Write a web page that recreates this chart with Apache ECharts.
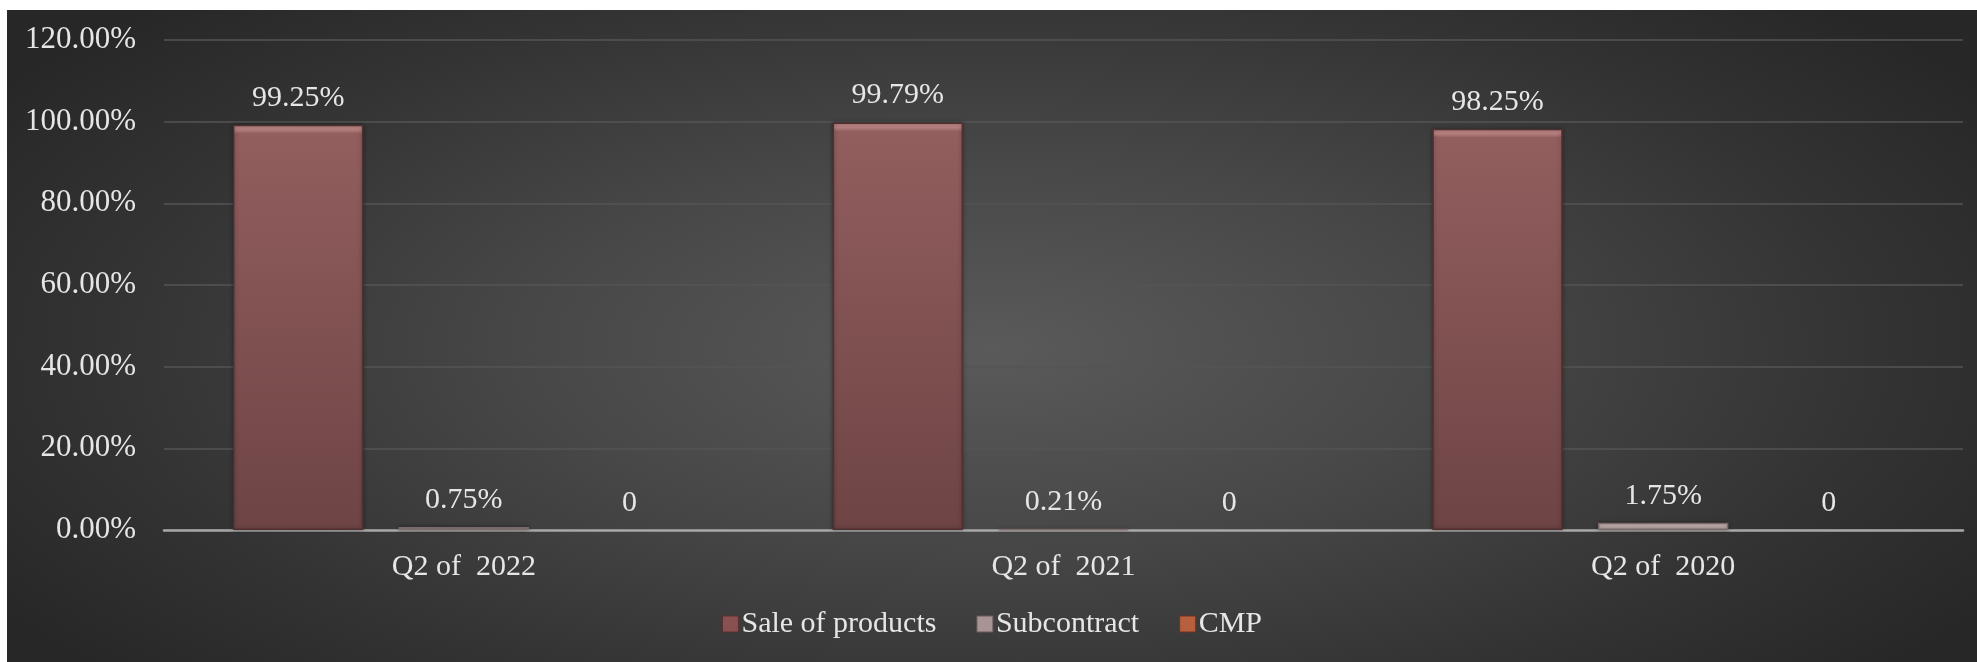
<!DOCTYPE html>
<html>
<head>
<meta charset="utf-8">
<title>Revenue structure by quarter</title>
<script src="https://cdn.jsdelivr.net/npm/echarts@6/dist/echarts.min.js"></script>
<style>
  html, body { margin: 0; padding: 0; background: #ffffff; }
  #chart {
    position: absolute; left: 7px; top: 10px; width: 1970px; height: 652px;
    background: radial-gradient(ellipse 60% 75% at 50% 52%, #5a5a5a 0%, #474747 40%, #333333 75%, #272727 100%);
  }
</style>
</head>
<body>
<div id="chart"></div>
<script>
// Quarters shown on the category axis
const categories = ['Q2 of  2022', 'Q2 of  2021', 'Q2 of  2020'];
// Share of revenue, in percent
const saleOfProducts = [99.25, 99.79, 98.25];
const subcontract = [0.75, 0.21, 1.75];
const cmp = [0, 0, 0];
// Value axis ticks (percent)
const yTicks = [0, 20, 40, 60, 80, 100, 120];

const FONT = '"Liberation Serif", "DejaVu Serif", serif';
const TEXT = '#e6e6e6';

function pctLabel(v) {
  return v === 0 ? '0' : v.toFixed(2) + '%';
}

const chart = echarts.init(document.getElementById('chart'), null, { renderer: 'canvas' });

function barSeries(name, data, hi, top, bottom, edge, edgeWidth) {
  return {
    name: name,
    type: 'bar',
    data: data,
    barGap: '27%',
    barCategoryGap: '23%',
    itemStyle: {
      color: {
        type: 'linear', x: 0, y: 0, x2: 0, y2: 1,
        colorStops: [
          { offset: 0, color: hi },
          { offset: 0.012, color: hi },
          { offset: 0.022, color: top },
          { offset: 1, color: bottom }
        ]
      },
      borderColor: edge,
      borderWidth: edgeWidth,
      shadowColor: 'rgba(0,0,0,0.35)',
      shadowBlur: edgeWidth ? 4 : 0
    },
    label: {
      show: true,
      position: 'top',
      distance: 12,
      color: TEXT,
      fontFamily: FONT,
      fontSize: 30,
      formatter: p => pctLabel(p.value)
    }
  };
}

chart.setOption({
  backgroundColor: 'transparent',
  animation: false,
  grid: { left: 157, right: 14, top: 30, bottom: 132, containLabel: false },
  legend: {
    bottom: 18,
    left: 'center',
    itemWidth: 16,
    itemHeight: 16,
    itemGap: 40,
    icon: 'rect',
    textStyle: { color: TEXT, fontFamily: FONT, fontSize: 30, padding: [0, 0, 0, -2] },
    data: [
      { name: 'Sale of products', itemStyle: { color: '#8a5050', borderColor: '#5a3030', borderWidth: 1 } },
      { name: 'Subcontract', itemStyle: { color: '#a89494', borderColor: '#6a5a5a', borderWidth: 1 } },
      { name: 'CMP', itemStyle: { color: '#b8603e', borderColor: '#6a3520', borderWidth: 1 } }
    ]
  },
  xAxis: {
    type: 'category',
    data: categories,
    axisLine: { show: true, lineStyle: { color: '#a8a8a8', width: 2.5 } },
    axisTick: { show: false },
    axisLabel: { color: TEXT, fontFamily: FONT, fontSize: 30, margin: 22 }
  },
  yAxis: {
    type: 'value',
    min: yTicks[0],
    max: yTicks[yTicks.length - 1],
    interval: yTicks[1] - yTicks[0],
    axisLine: { show: false },
    axisTick: { show: false },
    splitLine: { lineStyle: { color: '#555555', width: 1.5 } },
    axisLabel: {
      color: TEXT, fontFamily: FONT, fontSize: 31, margin: 28,
      formatter: v => v.toFixed(2) + '%'
    }
  },
  series: [
    barSeries('Sale of products', saleOfProducts, '#b88080', '#925e5e', '#6e4445', '#4e3030', 1.5),
    barSeries('Subcontract', subcontract, '#e0cccc', '#d2bcbc', '#b09c9c', '#7a6a6a', 1.5),
    barSeries('CMP', cmp, '#c0704a', '#c0704a', '#9a4e30', '#6a3520', 0)
  ]
});
</script>
</body>
</html>
